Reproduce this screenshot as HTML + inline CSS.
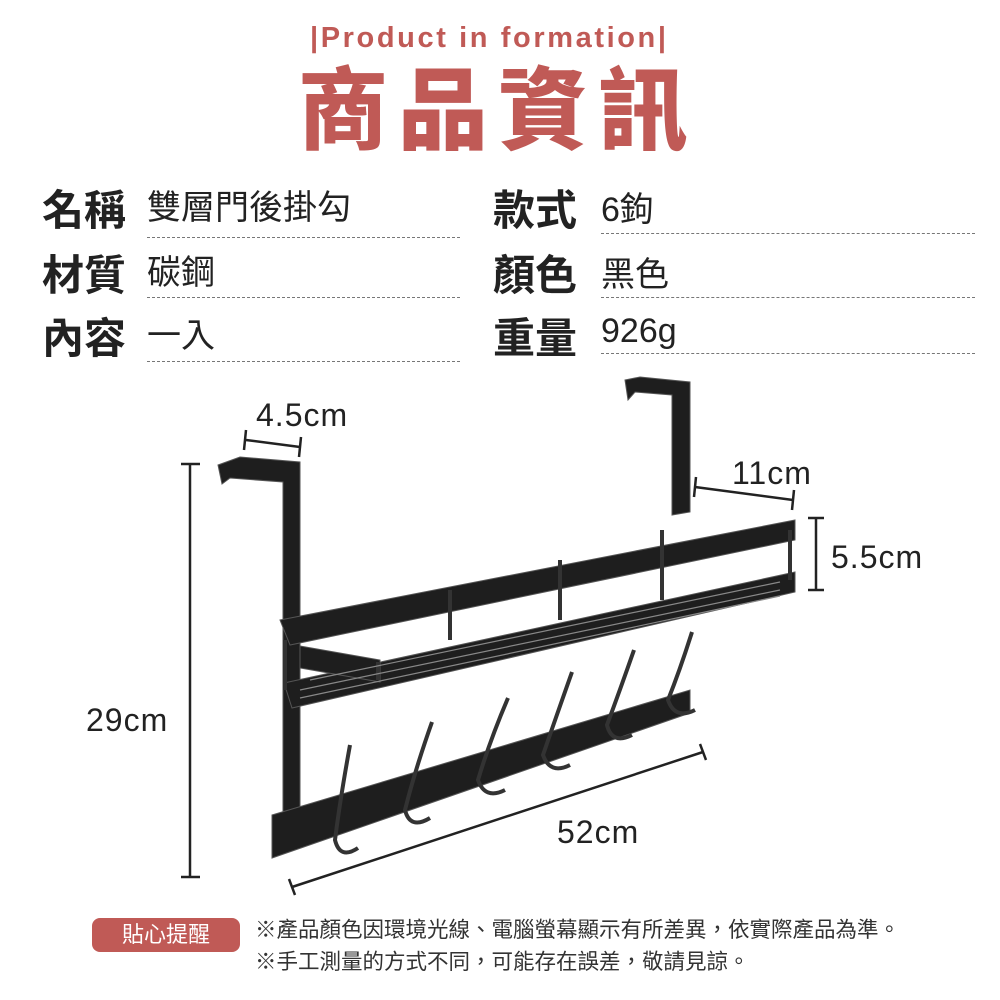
<!DOCTYPE html>
<html><head><meta charset="utf-8"><style>
body{margin:0;width:1000px;height:1000px;background:#fff;position:relative;overflow:hidden;font-family:"Liberation Sans","Noto Sans CJK TC",sans-serif;color:#222}
.a{position:absolute;white-space:nowrap}
.lb{font-weight:bold;font-size:42px;color:#222;font-family:"Noto Sans CJK TC",sans-serif;line-height:1}
.v{font-size:34px;color:#222;font-family:"Liberation Sans","Noto Sans CJK TC",sans-serif;line-height:1}
.d{position:absolute;border-top:1.5px dashed #777;height:0}
.dm{position:absolute;white-space:nowrap;font-size:32px;letter-spacing:1px;line-height:1}
</style></head><body>
<div class="a" style="left:310px;top:24px;font-size:29px;font-weight:bold;color:#c05a56;letter-spacing:2.6px;line-height:1">|Product in formation|</div>
<div class="a" style="left:298px;top:52px;font-size:90px;font-weight:900;color:#c05a56;letter-spacing:10px;font-family:'Noto Sans CJK TC',sans-serif;line-height:1.15">商品資訊</div>

<div class="a lb" style="left:42px;top:187px">名稱</div><div class="a v" style="left:147px;top:191px">雙層門後掛勾</div>
<div class="a lb" style="left:42px;top:252px">材質</div><div class="a v" style="left:147px;top:256px">碳鋼</div>
<div class="a lb" style="left:42px;top:315px">內容</div><div class="a v" style="left:147px;top:319px">一入</div>
<div class="d" style="left:147px;top:237px;width:313px"></div>
<div class="d" style="left:147px;top:297px;width:313px"></div>
<div class="d" style="left:147px;top:361px;width:313px"></div>
<div class="a lb" style="left:493px;top:187px">款式</div><div class="a v" style="left:601px;top:193px">6鉤</div>
<div class="a lb" style="left:493px;top:252px">顏色</div><div class="a v" style="left:601px;top:258px">黑色</div>
<div class="a lb" style="left:493px;top:315px">重量</div><div class="a v" style="left:601px;top:314px">926g</div>
<div class="d" style="left:601px;top:233px;width:374px"></div>
<div class="d" style="left:601px;top:297px;width:374px"></div>
<div class="d" style="left:601px;top:353px;width:374px"></div>

<svg class="a" style="left:0;top:0" width="1000" height="1000">
<g stroke="#222" stroke-width="2.5" fill="none">
<line x1="190" y1="464" x2="190" y2="877"/><line x1="181" y1="464" x2="200" y2="464"/><line x1="181" y1="877" x2="200" y2="877"/>
<line x1="246" y1="440" x2="300" y2="447"/><line x1="246" y1="430" x2="244" y2="450"/><line x1="301" y1="437" x2="299" y2="457"/>
<line x1="695" y1="487" x2="793" y2="500"/><line x1="696" y1="477" x2="694" y2="497"/><line x1="794" y1="490" x2="792" y2="510"/>
<line x1="816" y1="518" x2="816" y2="590"/><line x1="808" y1="518" x2="824" y2="518"/><line x1="808" y1="590" x2="824" y2="590"/>
<line x1="292" y1="887" x2="703" y2="752"/><line x1="289" y1="879" x2="295" y2="895"/><line x1="700" y1="744" x2="706" y2="760"/>
</g>
<g fill="#1e1e1e" stroke="#555" stroke-width="1">
<path d="M218 465 L240 457 L300 462 L300 815 L283 820 L283 482 L230 478 L222 484 Z"/>
<path d="M625 380 L640 377 L690 382 L690 512 L672 515 L672 395 L635 392 L628 400 Z"/>
<path d="M272 815 L690 690 L690 713 L272 858 Z"/>
<path d="M280 620 L795 520 L795 540 L290 645 Z"/>
<path d="M284 683 L795 572 L795 592 L292 708 Z"/>
<path d="M300 646 L380 660 L380 682 L300 668 Z"/>
</g>
<g stroke="#333" stroke-width="4" fill="none">
<line x1="285" y1="640" x2="285" y2="690"/><line x1="378" y1="662" x2="378" y2="680"/>
<line x1="450" y1="590" x2="450" y2="640"/><line x1="560" y1="560" x2="560" y2="620"/><line x1="662" y1="530" x2="662" y2="600"/>
<line x1="790" y1="530" x2="790" y2="580"/>
<path d="M350 745 Q340 800 335 840 Q340 860 358 848"/>
<path d="M432 722 Q415 770 405 810 Q410 830 430 818"/>
<path d="M508 698 Q490 740 478 780 Q485 800 505 790"/>
<path d="M572 672 Q555 720 543 755 Q550 775 570 765"/>
<path d="M634 650 Q620 690 607 725 Q612 745 632 735"/>
<path d="M692 632 Q680 670 668 700 Q675 720 695 710"/>
</g>
<g stroke="#888" stroke-width="1.2">
<line x1="300" y1="690" x2="780" y2="590"/><line x1="300" y1="698" x2="780" y2="596"/><line x1="310" y1="680" x2="780" y2="582"/>
</g>
</svg>
<div class="dm" style="left:256px;top:399px">4.5cm</div>
<div class="dm" style="left:732px;top:457px">11cm</div>
<div class="dm" style="left:831px;top:541px">5.5cm</div>
<div class="dm" style="left:86px;top:704px">29cm</div>
<div class="dm" style="left:557px;top:816px">52cm</div>

<div class="a" style="left:92px;top:918px;width:148px;height:34px;background:#c05a56;border-radius:8px;color:#fff;font-size:22px;line-height:34px;text-align:center">貼心提醒</div>
<div class="a" style="left:255px;top:920px;font-size:21.5px;color:#333;line-height:1">※產品顏色因環境光線、電腦螢幕顯示有所差異，依實際產品為準。</div>
<div class="a" style="left:255px;top:952px;font-size:21.5px;color:#333;line-height:1">※手工測量的方式不同，可能存在誤差，敬請見諒。</div>
</body></html>
